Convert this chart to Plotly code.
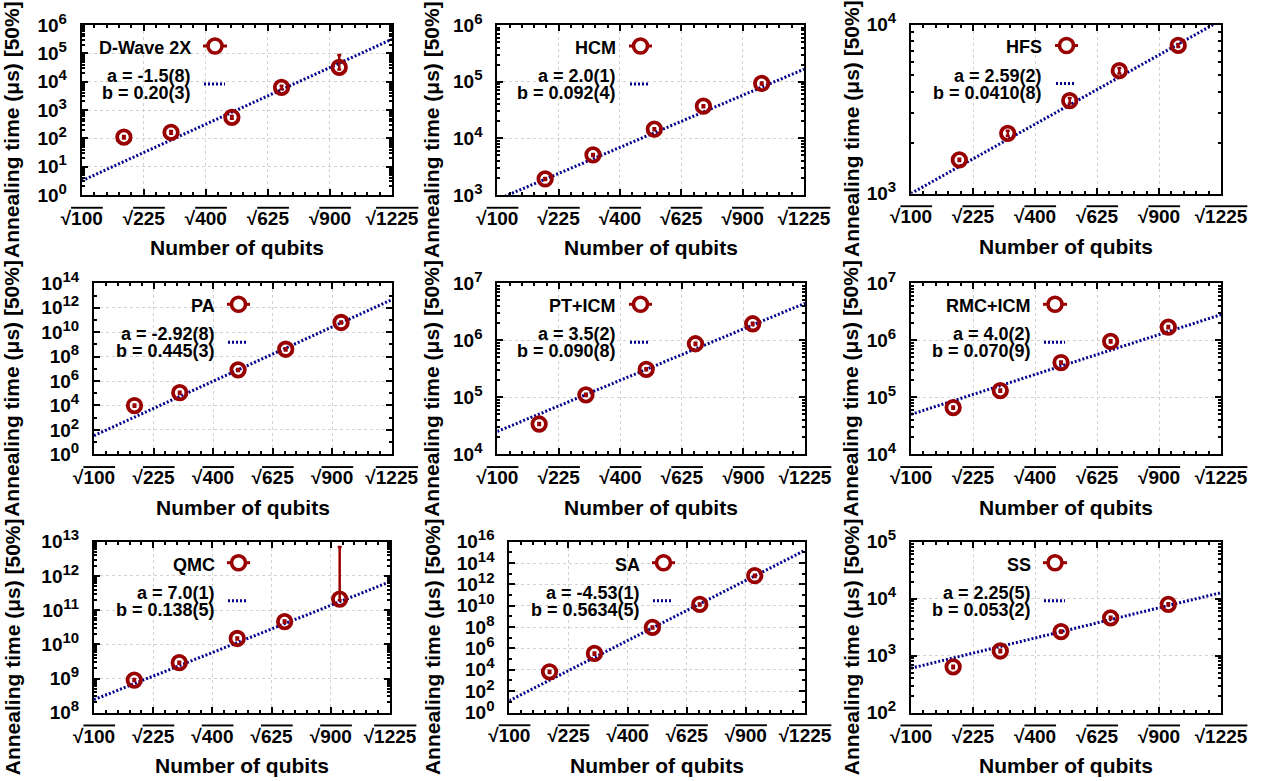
import numpy as np
import plotly.graph_objects as go

W, H = 1265, 781

# ---------------- data ----------------
# x = sqrt(number of qubits)
x_std = [13.4, 17.2, 22.1, 26.1, 30.75]
x_hc = [13.9, 17.8, 22.8, 26.8, 31.55]

x_tick_vals = [10, 15, 20, 25, 30, 35]
x_tick_nums = ["100", "225", "400", "625", "900", "1225"]

names = ["D-Wave 2X", "HCM", "HFS", "PA", "PT+ICM", "RMC+ICM", "QMC", "SA", "SS"]

dwave_t = [110, 162, 550, 6300, 32000]
dwave_ep = [12, 18, 60, 900, 55000]
dwave_em = [12, 18, 60, 900, 5000]

hcm_t = [1920, 5100, 14500, 37000, 93000]
hcm_e = [80, 200, 600, 1500, 3500]

hfs_t = [1580, 2270, 3540, 5330, 7520]
hfs_e = [25, 80, 130, 200, 150]

pa_t = [9800, 1.1e5, 8.2e6, 4.0e8, 6.2e10]
pa_e = [2000, 22000, 1.6e6, 8e7, 1.2e10]

pticm_t = [34000, 1.1e5, 3.1e5, 8.7e5, 1.95e6]
pticm_e = [1400, 5000, 13000, 40000, 90000]

rmcicm_t = [66000, 1.31e5, 4.07e5, 9.6e5, 1.7e6]
rmcicm_e = [3000, 6000, 18000, 45000, 80000]

qmc_t = [9.0e8, 2.9e9, 1.48e10, 4.6e10, 2.1e11]
qmc_ep = [6e7, 2e8, 1e9, 3.5e9, 6.8e12]
qmc_em = [6e7, 2e8, 1e9, 3.5e9, 1.5e10]

sa_t = [6500, 3.4e5, 9.3e7, 1.33e10, 6.5e12]
sa_e = [1500, 8e4, 2e7, 3e9, 1.5e12]

ss_t = [635, 1210, 2640, 4600, 7960]
ss_e = [30, 60, 120, 200, 350]

fit_a = [-1.5, 2.0, 2.59, -2.92, 3.5, 4.0, 7.0, -4.53, 2.25]
fit_b = [0.20, 0.092, 0.0410, 0.445, 0.090, 0.070, 0.138, 0.5634, 0.053]
fit_a_txt = ["-1.5(8)", "2.0(1)", "2.59(2)", "-2.92(8)", "3.5(2)", "4.0(2)", "7.0(1)", "-4.53(1)", "2.25(5)"]
fit_b_txt = ["0.20(3)", "0.092(4)", "0.0410(8)", "0.445(3)", "0.090(8)", "0.070(9)", "0.138(5)", "0.5634(5)", "0.053(2)"]

y_ranges = [(0, 6), (3, 6), (3, 4), (0, 14), (4, 7), (4, 7), (8, 13), (0, 16), (2, 5)]
y_steps = [1, 1, 1, 2, 1, 1, 1, 2, 1]

series = [
    (x_std, dwave_t, dwave_ep, dwave_em),
    (x_hc, hcm_t, hcm_e, hcm_e),
    (x_hc, hfs_t, hfs_e, hfs_e),
    (x_std, pa_t, pa_e, pa_e),
    (x_std, pticm_t, pticm_e, pticm_e),
    (x_std, rmcicm_t, rmcicm_e, rmcicm_e),
    (x_std, qmc_t, qmc_ep, qmc_em),
    (x_std, sa_t, sa_e, sa_e),
    (x_std, ss_t, ss_e, ss_e),
]

# ---------------- layout (pixels) ----------------
boxes = [
    (81.7, 392.0, 25.0, 195.0), (497.3, 804.0, 25.0, 195.0), (911.0, 1221.0, 24.5, 193.5),
    (94.0, 391.7, 283.3, 454.3), (497.3, 805.0, 283.3, 454.3), (911.0, 1221.0, 283.3, 454.3),
    (94.0, 390.0, 541.7, 712.7), (509.3, 805.0, 541.7, 712.5), (911.0, 1221.0, 541.7, 712.7),
]
legend_pos = [
    (193, 203, 227), (618, 629, 652), (1044, 1055, 1078),
    (216.7, 227, 250), (618, 629, 652), (1032.7, 1043, 1067),
    (216.7, 227, 250), (641.7, 652, 675), (1032.7, 1043, 1067),
]
ytitle_x = [12, 432, 851]

RED = "#990000"
BLUE = "#00008b"
FONT = "Liberation Sans"
GRID = "#d2d2d2"
TICK_SIZE = 19


def px(v):
    return v / W


def py(v):
    return 1 - v / H


fig = go.Figure()
annotations = []
shapes = []

x_fit = np.array([x_tick_vals[0], x_tick_vals[-1]], dtype=float)
x_ticktext = ["√<span style='text-decoration:overline'>%s</span>" % n for n in x_tick_nums]

for i in range(9):
    sfx = "" if i == 0 else str(i + 1)
    xr, yr = "x" + sfx, "y" + sfx
    xs, ys, ep, em = series[i]
    L, R, T, B = boxes[i]

    # fit line
    y_fit = 10 ** (fit_a[i] + fit_b[i] * x_fit)
    fig.add_trace(go.Scatter(x=x_fit, y=y_fit, mode="lines", xaxis=xr, yaxis=yr,
                             line=dict(color=BLUE, width=3, dash="2px,2px"),
                             hoverinfo="skip", showlegend=False))
    # data
    fig.add_trace(go.Scatter(x=xs, y=ys, mode="markers", xaxis=xr, yaxis=yr,
                             marker=dict(symbol="circle-open", size=13.5, color=RED,
                                         line=dict(width=3.8, color=RED)),
                             error_y=dict(type="data", symmetric=False, array=ep, arrayminus=em,
                                          color=RED, thickness=2.5, width=2),
                             name=names[i], showlegend=False))

    lo, hi = y_ranges[i]
    st = y_steps[i]
    yv = [10.0 ** k for k in range(lo, hi + 1, st)]
    yt = ["10<sup><span style='font-size:15px'>%d</span></sup>" % k for k in range(lo, hi + 1, st)]
    if st == 1:
        minor = dict(ticks="inside", ticklen=3, dtick="D1", tickcolor="black", showgrid=False)
    else:
        minor = dict(ticks="inside", ticklen=3, tickvals=[10.0 ** k for k in range(lo, hi + 1)],
                     tickcolor="black", showgrid=False)

    fig.layout["xaxis" + sfx] = dict(
        domain=[px(L), px(R)], anchor=yr, range=[10, 35], automargin=False,
        tickvals=x_tick_vals, ticktext=x_ticktext,
        ticks="inside", ticklen=6, tickwidth=1.5, tickcolor="black",
        minor=dict(ticks="inside", ticklen=3, dtick=1, tickcolor="black", showgrid=False),
        showline=True, linecolor="black", linewidth=2, mirror="allticks",
        showgrid=True, gridcolor=GRID, griddash="dot", gridwidth=1,
        zeroline=False, ticklabelstandoff=5,
        tickfont=dict(family=FONT, size=TICK_SIZE, color="black", weight="bold"),
    )
    fig.layout["yaxis" + sfx] = dict(
        domain=[py(B), py(T)], anchor=xr, type="log", range=[lo, hi], automargin=False,
        tickvals=yv, ticktext=yt,
        ticks="inside", ticklen=6, tickwidth=1.5, tickcolor="black",
        minor=minor,
        showline=True, linecolor="black", linewidth=2, mirror="allticks",
        showgrid=True, gridcolor=GRID, griddash="dot", gridwidth=1,
        zeroline=False, ticklabelstandoff=9,
        tickfont=dict(family=FONT, size=TICK_SIZE, color="black", weight="bold"),
    )

    # axis titles
    annotations.append(dict(xref="paper", yref="paper", x=px((L + R) / 2), y=py(B + 53),
                            text="Number of qubits", showarrow=False,
                            xanchor="center", yanchor="middle",
                            font=dict(family=FONT, size=21, color="black", weight="bold")))
    annotations.append(dict(xref="paper", yref="paper", x=px(ytitle_x[i % 3]), y=py((T + B) / 2 + 20),
                            text="Annealing time (μs) [50%]", showarrow=False, textangle=-90,
                            xanchor="center", yanchor="middle",
                            font=dict(family=FONT, size=21, color="black", weight="bold")))

    # key
    tr, s0, s1 = legend_pos[i]
    for txt, dy in ((names[i], 23), ("a = " + fit_a_txt[i], 51), ("b = " + fit_b_txt[i], 68)):
        annotations.append(dict(xref="paper", yref="paper", x=px(tr), y=py(T + dy),
                                text=txt, showarrow=False, xanchor="right", yanchor="middle",
                                font=dict(family=FONT, size=18, color="black", weight="bold")))
    shapes.append(dict(type="line", xref="paper", yref="paper",
                       x0=px(s0), x1=px(s1), y0=py(T + 21), y1=py(T + 21),
                       line=dict(color=RED, width=3)))
    cx = (s0 + s1) / 2
    shapes.append(dict(type="circle", xref="paper", yref="paper",
                       xsizemode="pixel", ysizemode="pixel",
                       xanchor=px(cx), yanchor=py(T + 21),
                       x0=-7, x1=7, y0=-7, y1=7,
                       fillcolor="white", line=dict(color=RED, width=3.6)))
    shapes.append(dict(type="line", xref="paper", yref="paper",
                       x0=px(s0 + 1), x1=px(s1 - 2), y0=py(T + 59), y1=py(T + 59),
                       line=dict(color=BLUE, width=3, dash="2px,2px")))

fig.update_layout(
    template="none",
    width=W, height=H, autosize=False,
    margin=dict(l=0, r=0, t=0, b=0, pad=0),
    paper_bgcolor="white", plot_bgcolor="white",
    showlegend=False,
    annotations=annotations, shapes=shapes,
    font=dict(family=FONT, color="black"),
)

fig.write_html("out.html", config={"displayModeBar": False},
               post_script="document.body.style.margin='0';document.body.style.overflow='hidden';")
